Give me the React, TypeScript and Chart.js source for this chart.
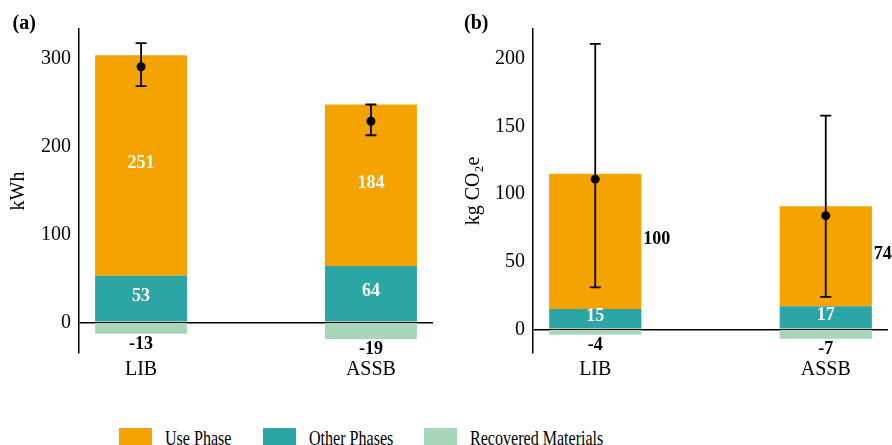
import { useEffect, useRef } from 'react';
import { Chart, registerables } from 'chart.js';

Chart.register(...registerables);

const CATEGORIES = ['LIB', 'ASSB'];
const SERIES_NAMES = ['Use Phase', 'Other Phases', 'Recovered Materials'];
const SERIES_COLORS = ['#F4A300', '#2CA5A5', '#A8D6BB'];

// (a) energy demand, kWh
const ENERGY_USE = [251, 184];
const ENERGY_OTHER = [53, 64];
const ENERGY_RECOVERED = [-13, -19];
const ENERGY_NET = [291, 229];
const ENERGY_LOW = [269, 213];
const ENERGY_HIGH = [318, 248];
const ENERGY_TICKS = [0, 100, 200, 300];

// (b) climate impact, kg CO2e
const CARBON_USE = [100, 74];
const CARBON_OTHER = [15, 17];
const CARBON_RECOVERED = [-4, -7];
const CARBON_NET = [111, 84];
const CARBON_LOW = [31, 24];
const CARBON_HIGH = [211, 158];
const CARBON_TICKS = [0, 50, 100, 150, 200];

const SERIF = '"Liberation Serif", "Times New Roman", Times, serif';
const WIDTH = 446;
const HEIGHT = 400;
const PLOT_TOP = 29;
const PLOT_BOTTOM = 353;

type PanelProps = {
  tag: string;
  tagX: number;
  yTitle: string;
  titlePad: number;
  yWidth: number;
  padRight: number;
  yMin: number;
  yMax: number;
  ticks: number[];
  use: number[];
  other: number[];
  recovered: number[];
  net: number[];
  low: number[];
  high: number[];
  useOutside: boolean;
};

// Value labels, net-value markers with uncertainty whiskers, and the panel tag.
const panelMarks = {
  id: 'panelMarks',
  afterDatasetsDraw(chart: any, _args: any, opts: any) {
    const { ctx } = chart;
    const x = chart.scales.x;
    const y = chart.scales.y;
    ctx.save();
    ctx.font = `bold 18px ${SERIF}`;
    ctx.textBaseline = 'middle';
    chart.data.datasets.forEach((ds: any, d: number) => {
      const meta = chart.getDatasetMeta(d);
      meta.data.forEach((bar: any, i: number) => {
        const p = bar.getProps(['x', 'y', 'base', 'width'], true);
        const v = ds.data[i].y;
        let tx = p.x;
        let ty = (p.y + p.base) / 2 - 2;
        let color = '#ffffff';
        let align = 'center';
        if (v < 0) {
          ty = Math.max(p.y, p.base) + 10.5;
          color = '#000000';
        } else if (ds.outsideLabel) {
          tx = p.x + p.width / 2 + 2;
          align = 'left';
          color = '#000000';
        }
        ctx.fillStyle = color;
        ctx.textAlign = align;
        ctx.fillText(String(v), tx, ty);
      });
    });

    ctx.strokeStyle = '#000000';
    ctx.fillStyle = '#000000';
    ctx.lineWidth = 1.8;
    opts.net.forEach((n: number, i: number) => {
      const px = x.getPixelForValue(i);
      const yLo = y.getPixelForValue(opts.low[i]);
      const yHi = y.getPixelForValue(opts.high[i]);
      ctx.beginPath();
      ctx.moveTo(px, yLo);
      ctx.lineTo(px, yHi);
      ctx.moveTo(px - 5.5, yLo);
      ctx.lineTo(px + 5.5, yLo);
      ctx.moveTo(px - 5.5, yHi);
      ctx.lineTo(px + 5.5, yHi);
      ctx.stroke();
      ctx.beginPath();
      ctx.arc(px, y.getPixelForValue(n), 4.5, 0, Math.PI * 2);
      ctx.fill();
    });
    ctx.restore();
  },
  afterDraw(chart: any, _args: any, opts: any) {
    const { ctx } = chart;
    ctx.save();
    ctx.font = `bold 20px ${SERIF}`;
    ctx.fillStyle = '#000000';
    ctx.textAlign = 'left';
    ctx.textBaseline = 'alphabetic';
    ctx.fillText(opts.tag, opts.tagX, 28.5);
    ctx.restore();
  },
};

function Panel(props: PanelProps) {
  const ref = useRef<HTMLCanvasElement | null>(null);

  useEffect(() => {
    if (!ref.current) return;
    const toPoints = (vals: number[]) => vals.map((v, i) => ({ x: i, y: v }));
    const font = { family: SERIF, size: 20 };
    const chart = new Chart(ref.current, {
      type: 'bar',
      data: {
        datasets: [
          {
            label: SERIES_NAMES[1],
            data: toPoints(props.other),
            backgroundColor: SERIES_COLORS[1],
          },
          {
            label: SERIES_NAMES[0],
            data: toPoints(props.use),
            backgroundColor: SERIES_COLORS[0],
            outsideLabel: props.useOutside,
          } as any,
          {
            label: SERIES_NAMES[2],
            data: toPoints(props.recovered),
            backgroundColor: SERIES_COLORS[2],
          },
        ],
      },
      options: {
        animation: false,
        responsive: false,
        events: [],
        barPercentage: 0.4,
        categoryPercentage: 1,
        layout: {
          padding: { top: PLOT_TOP, right: props.padRight, left: 0, bottom: 0 },
        },
        scales: {
          x: {
            type: 'linear',
            stacked: true,
            offset: false,
            min: -0.27,
            max: 1.27,
            afterBuildTicks: (s: any) => {
              s.ticks = CATEGORIES.map((_c, i) => ({ value: i }));
            },
            afterFit: (s: any) => {
              s.height = HEIGHT - PLOT_BOTTOM;
            },
            grid: { display: false, drawTicks: false },
            border: { display: false },
            ticks: {
              padding: 5,
              color: '#000000',
              font,
              maxRotation: 0,
              autoSkip: false,
              callback: (_v: any, i: number) => CATEGORIES[i],
            },
          },
          y: {
            stacked: true,
            min: props.yMin,
            max: props.yMax,
            z: 1,
            afterBuildTicks: (s: any) => {
              s.ticks = props.ticks.map((v) => ({ value: v }));
            },
            afterFit: (s: any) => {
              s.width = props.yWidth;
            },
            border: { display: true, color: '#000000', width: 1.5 },
            grid: {
              drawTicks: false,
              lineWidth: 1.5,
              color: (c: any) => (c.tick && c.tick.value === 0 ? '#000000' : 'rgba(0,0,0,0)'),
            },
            ticks: { padding: 8, color: '#000000', font },
            title: {
              display: true,
              text: props.yTitle,
              color: '#000000',
              font,
              padding: { top: props.titlePad, bottom: 0 },
            },
          },
        },
        plugins: {
          legend: { display: false },
          tooltip: { enabled: false },
          panelMarks: {
            tag: props.tag,
            tagX: props.tagX,
            net: props.net,
            low: props.low,
            high: props.high,
          },
        } as any,
      },
      plugins: [panelMarks],
    } as any);
    return () => chart.destroy();
  }, []);

  return <canvas ref={ref} width={WIDTH} height={HEIGHT} style={{ display: 'block' }} />;
}

const LEGEND_LEFT = [119, 263, 424];

export default function App() {
  return (
    <div
      style={{
        position: 'fixed',
        left: 0,
        top: 0,
        width: 892,
        height: 445,
        overflow: 'hidden',
        background: '#ffffff',
        fontFamily: SERIF,
      }}
    >
      <div style={{ position: 'absolute', left: 0, top: 0 }}>
        <Panel
          tag="(a)"
          tagX={12.5}
          yTitle="kWh"
          titlePad={7}
          yWidth={79}
          padRight={13}
          yMin={-35}
          yMax={334}
          ticks={ENERGY_TICKS}
          use={ENERGY_USE}
          other={ENERGY_OTHER}
          recovered={ENERGY_RECOVERED}
          net={ENERGY_NET}
          low={ENERGY_LOW}
          high={ENERGY_HIGH}
          useOutside={false}
        />
      </div>
      <div style={{ position: 'absolute', left: 446, top: 0 }}>
        <Panel
          tag="(b)"
          tagX={18}
          yTitle="kg CO₂e"
          titlePad={16}
          yWidth={87}
          padRight={4}
          yMin={-17.5}
          yMax={222}
          ticks={CARBON_TICKS}
          use={CARBON_USE}
          other={CARBON_OTHER}
          recovered={CARBON_RECOVERED}
          net={CARBON_NET}
          low={CARBON_LOW}
          high={CARBON_HIGH}
          useOutside={true}
        />
      </div>
      {SERIES_NAMES.map((name, k) => (
        <div
          key={name}
          style={{ position: 'absolute', left: LEGEND_LEFT[k], top: 428, display: 'flex', alignItems: 'flex-start' }}
        >
          <span style={{ display: 'block', width: 33, height: 18, background: SERIES_COLORS[k] }} />
          <span
            style={{
              display: 'block',
              marginLeft: 13,
              marginTop: -1,
              fontSize: 22,
              lineHeight: '22px',
              color: '#000000',
              whiteSpace: 'nowrap',
              transform: 'scaleX(0.73)',
              transformOrigin: 'left top',
            }}
          >
            {name}
          </span>
        </div>
      ))}
    </div>
  );
}
